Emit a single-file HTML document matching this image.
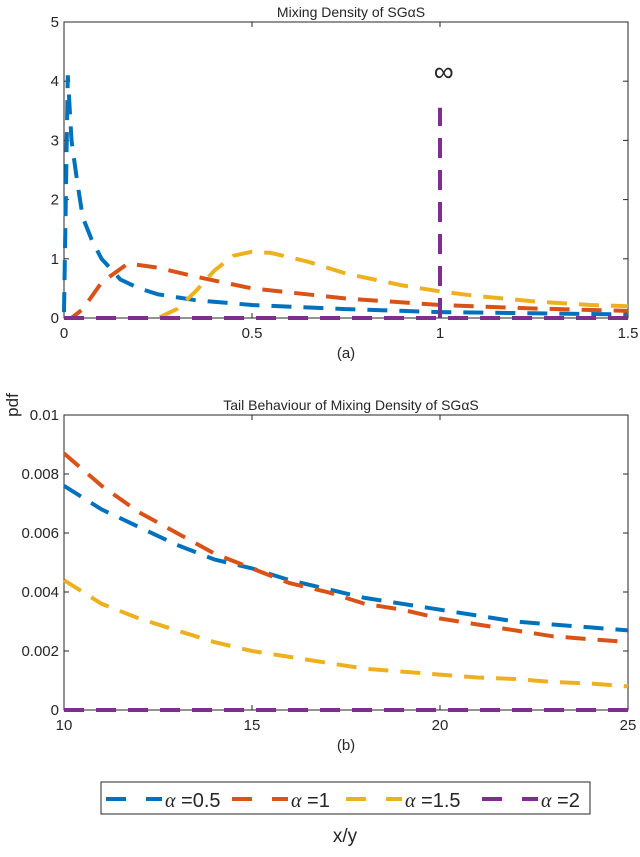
<!DOCTYPE html>
<html><head><meta charset="utf-8"><style>
body{margin:0;background:#fff;font-family:"Liberation Sans",sans-serif;}
svg text{font-family:"Liberation Sans",sans-serif;fill:#262626;}
</style></head><body>
<svg id="chart" width="640" height="852" xmlns="http://www.w3.org/2000/svg"></svg>
<script>
const topX=[0,0.01,0.02,0.035,0.05,0.075,0.1,0.15,0.2,0.25,0.35,0.5,0.75,1.0,1.25,1.5];
const topBlue=[0.1,4.1,3.0,2.3,1.7,1.3,1.0,0.65,0.5,0.4,0.3,0.22,0.15,0.1,0.08,0.06];
const topRedX=[0,0.02,0.05,0.1,0.17,0.25,0.35,0.5,0.75,1.0,1.25,1.5];
const topRed=[0,0,0.15,0.6,0.92,0.85,0.7,0.5,0.33,0.22,0.16,0.12];
const topYelX=[0,0.25,0.3,0.35,0.4,0.45,0.5,0.55,0.65,0.75,0.9,1.0,1.1,1.25,1.4,1.5];
const topYel=[0,0,0.15,0.45,0.8,1.05,1.12,1.1,0.95,0.75,0.55,0.45,0.37,0.28,0.22,0.2];
const purpleSpikeX=1.0, purpleSpikeY=3.55;
const topXTicks=[0,0.5,1,1.5], topYTicks=[0,1,2,3,4,5];
const botX=[10,11,12,13,14,15,16,17,18,19,20,21,22,23,24,25];
const botBlue=[.0076,.0068,.0062,.0056,.0051,.0048,.0044,.0041,.0038,.0036,.0034,.0032,.0030,.0029,.0028,.0027];
const botRed=[.0087,.0076,.0067,.0060,.0053,.0048,.0043,.0040,.0036,.0034,.0031,.0029,.0027,.0025,.0024,.0023];
const botYel=[.0044,.0036,.0031,.0027,.0023,.0020,.0018,.0016,.0014,.0013,.0012,.0011,.00105,.00095,.0009,.0008];
const botXTicks=[10,15,20,25], botYTicks=[0,0.002,0.004,0.006,0.008,0.01];
const colors=['#0072BD','#D95319','#EDB120','#7E2F8E'];
const svg=document.getElementById('chart');const NS='http://www.w3.org/2000/svg';
function mk(t,a,p){const e=document.createElementNS(NS,t);for(const k in a)e.setAttribute(k,a[k]);(p||svg).appendChild(e);return e;}
function panel(name,L,R,T,B,x0,x1,y0,y1,xt,yt,title,sub,fmtY){
 const g=mk('g',{});
 
 
 const sx=v=>L+(v-x0)/(x1-x0)*(R-L), sy=v=>B-(v-y0)/(y1-y0)*(B-T);
 const box=mk('rect',{x:L,y:T,width:R-L,height:B-T,fill:'none',stroke:'#262626','stroke-width':1},g);
 
 xt.forEach(v=>{const x=sx(v);mk('line',{x1:x,x2:x,y1:B,y2:B-5,stroke:'#262626'},g);mk('line',{x1:x,x2:x,y1:T,y2:T+5,stroke:'#262626'},g);
  const t=mk('text',{x:x,y:B+20,'text-anchor':'middle','font-size':15},g);t.textContent=v;
  });
 yt.forEach(v=>{const y=sy(v);mk('line',{x1:L,x2:L+5,y1:y,y2:y,stroke:'#262626'},g);mk('line',{x1:R,x2:R-5,y1:y,y2:y,stroke:'#262626'},g);
  const t=mk('text',{x:L-5,y:y+5,'text-anchor':'end','font-size':15},g);t.textContent=fmtY(v);
  });
 const tt=mk('text',{x:(L+R)/2+5,y:T-5,'text-anchor':'middle','font-size':14},g);tt.innerHTML=title;
 
 const st=mk('text',{x:(L+R)/2,y:B+40,'text-anchor':'middle','font-size':15},g);st.textContent=sub;
 
 return {g,sx,sy};
}
function series(p,xs,ys,c,name){
 const d=xs.map((x,i)=>(i?'L':'M')+p.sx(x).toFixed(1)+','+p.sy(ys[i]).toFixed(1)).join('');
 const e=mk('path',{d:d,fill:'none',stroke:c,'stroke-width':4,'stroke-dasharray':'20 12'},p.g);
 
}
const A=panel('top-panel',64,628,22,318,0,1.5,0,5,topXTicks,topYTicks,'Mixing Density of SG&#945;S','(a)',v=>v);
series(A,topX,topBlue,colors[0],'series-alpha-0.5');
series(A,topRedX,topRed,colors[1],'series-alpha-1');
series(A,topYelX,topYel,colors[2],'series-alpha-1.5');
series(A,[0,1.5],[0,0],colors[3],'series-alpha-2');
series(A,[purpleSpikeX,purpleSpikeX],[0,purpleSpikeY],colors[3],'series-alpha-2-spike');
const inf=mk('text',{x:A.sx(1.01),y:A.sy(4.0),'text-anchor':'middle','font-size':28},A.g);inf.textContent='∞';

const B=panel('bottom-panel',64,628,415,710,10,25,0,0.01,botXTicks,botYTicks,'Tail Behaviour of Mixing Density of SG&#945;S','(b)',v=>v===0?'0':v.toFixed(v===0.01?2:3));
series(B,botX,botBlue,colors[0],'tail-alpha-0.5');
series(B,botX,botRed,colors[1],'tail-alpha-1');
series(B,botX,botYel,colors[2],'tail-alpha-1.5');
series(B,[10,25],[0,0],colors[3],'tail-alpha-2');
const yl=mk('text',{x:0,y:0,'font-size':17,'text-anchor':'middle',transform:'translate(18,405) rotate(-90)'});yl.textContent='pdf';

const xl=mk('text',{x:345,y:842,'font-size':19,'text-anchor':'middle'});xl.textContent='x/y';

const lg=mk('g',{});


mk('rect',{x:101,y:782,width:489,height:32,fill:'#fff',stroke:'#262626'},lg);
const labels=['=0.5','=1','=1.5','=2'];const lx=[106,232,346,482];
labels.forEach((s,i)=>{const e=mk('g',{},lg);
 
 
 mk('line',{x1:lx[i],x2:lx[i]+56,y1:799,y2:799,stroke:colors[i],'stroke-width':4,'stroke-dasharray':'20 20'},e);
 const t=mk('text',{x:lx[i]+59,y:807,'font-size':20},e);
 t.innerHTML='<tspan font-family="Liberation Serif" font-style="italic">α</tspan> '+s;});
</script>
</body></html>
